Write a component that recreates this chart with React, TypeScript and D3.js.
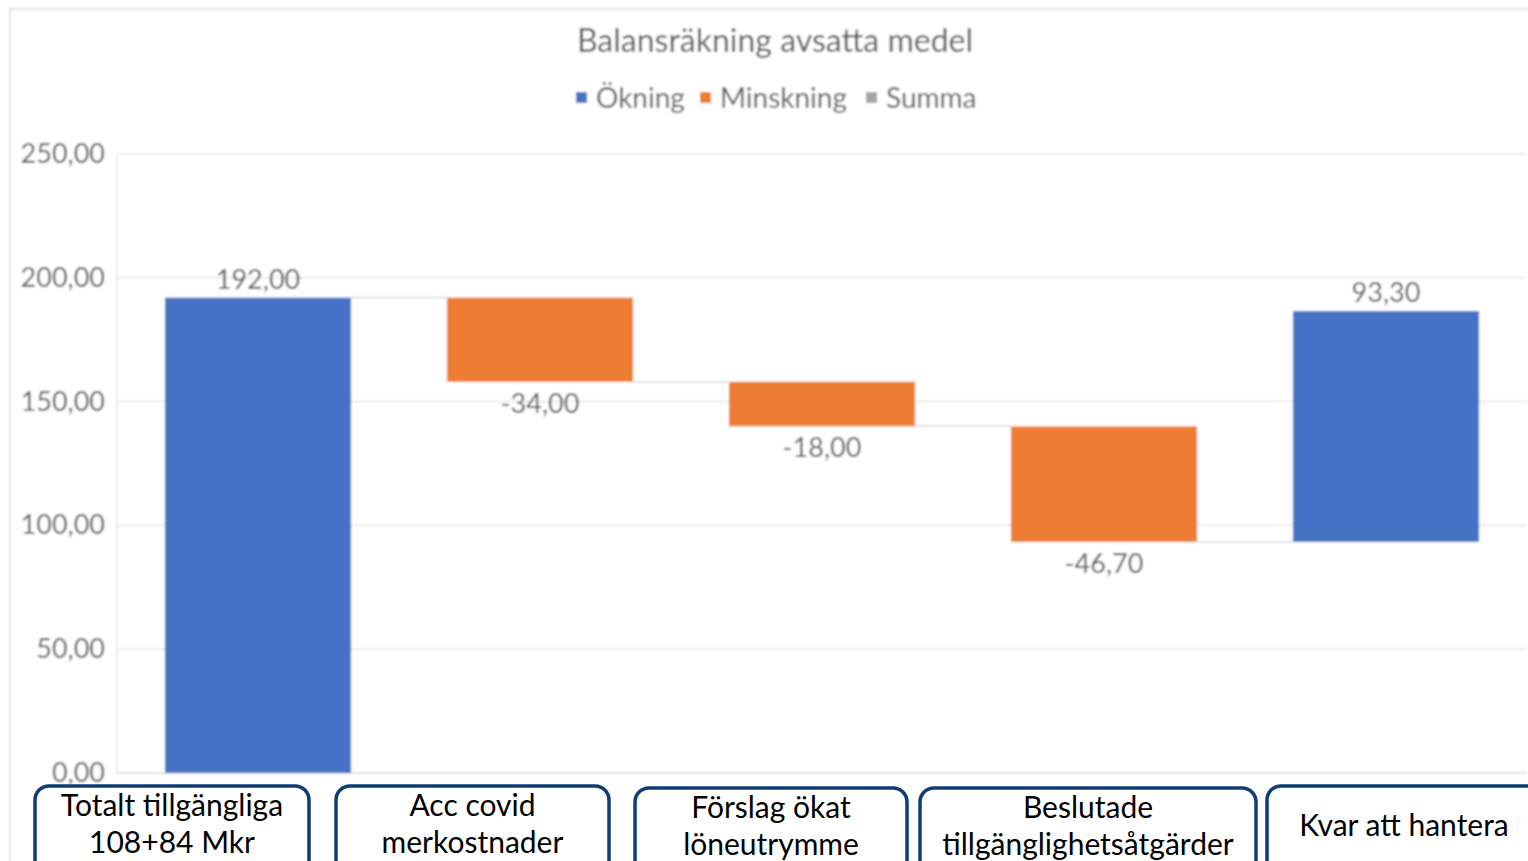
import React from 'react';
import * as d3 from 'd3';

// waterfall steps
const categories = [
  'Totalt tillgängliga 108+84 Mkr',
  'Acc covid merkostnader',
  'Förslag ökat löneutrymme',
  'Beslutade tillgänglighetsåtgärder',
  'Kvar att hantera',
];
const changes = [192, -34, -18, -46.7, 93.3];
const yTicks = [0, 50, 100, 150, 200, 250];
const legendItems = ['Ökning', 'Minskning', 'Summa'];
const legendColors = ['#4472C4', '#ED7D31', '#A5A5A5'];
const boxLines = [
  ['Totalt tillgängliga', '108+84 Mkr'],
  ['Acc covid', 'merkostnader'],
  ['Förslag ökat', 'löneutrymme'],
  ['Beslutade', 'tillgänglighetsåtgärder'],
  ['Kvar att hantera'],
];

const W = 1528;
const H = 861;
const plot = { left: 117, right: 1527, top: 154, bottom: 773 };
const font = 'Lato, "Open Sans", sans-serif';
const grey = '#595959';

// overlay boxes (annotation frames on top of the axis labels)
const boxFrames = [
  { x: 35, w: 274, y: 786 },
  { x: 336, w: 273, y: 786 },
  { x: 635, w: 272, y: 788 },
  { x: 920, w: 336, y: 788 },
  { x: 1267, w: 274, y: 786 },
];

// swedish style numbers: decimal comma, plain hyphen for minus
const sv = d3.formatLocale({ decimal: ',', thousands: ' ', grouping: [3], currency: ['', ' kr'], minus: '-' });
const fmt = sv.format('.2f');

const App: React.FC = () => {
  const x = d3
    .scaleBand<number>()
    .domain(changes.map((_, i) => i))
    .range([plot.left, plot.right])
    .paddingInner(0.34)
    .paddingOuter(0.17);
  const y = d3.scaleLinear().domain([0, 250]).range([plot.bottom, plot.top]);

  // running totals
  let run = 0;
  const steps = changes.map((v, i) => {
    const start = run;
    run += v;
    return { i, v, start, end: run };
  });

  const legendX = [576, 700, 866];

  return (
    <svg
      width={W}
      height={H}
      style={{ position: 'absolute', left: 0, top: 0, background: '#fff' }}
      fontFamily={font}
    >
      <defs>
        <filter id="soft" x="-5%" y="-5%" width="110%" height="110%">
          <feGaussianBlur stdDeviation="0.8" />
        </filter>
      </defs>
      <g filter="url(#soft)">
        {/* chart frame */}
        <rect x={10} y={9} width={W} height={H} fill="#fff" stroke="#d9d9d9" strokeWidth={1.5} />

        <text x={775} y={52} textAnchor="middle" fontSize={32} fill={grey}>
          Balansräkning avsatta medel
        </text>

        {legendItems.map((l, i) => (
          <g key={l}>
            <rect x={legendX[i]} y={92} width={11} height={11} fill={legendColors[i]} />
            <text x={legendX[i] + 20} y={108} fontSize={28} fill={grey}>
              {l}
            </text>
          </g>
        ))}

        {/* gridlines */}
        {yTicks.map((t) => (
          <g key={t}>
            <line x1={plot.left} x2={plot.right} y1={y(t)} y2={y(t)} stroke={t === 0 ? '#d9d9d9' : '#e6e6e6'} strokeWidth={1.5} />
            <text x={105} y={y(t) + 9} textAnchor="end" fontSize={27} fill={grey}>
              {fmt(t)}
            </text>
          </g>
        ))}
        <line x1={plot.left} x2={plot.left} y1={plot.top} y2={plot.bottom} stroke="#e6e6e6" strokeWidth={1.5} />

        {/* connectors */}
        {steps.slice(0, -1).map((s) => {
          const nx = steps[s.i + 1];
          const level = nx.start;
          return (
            <line
              key={'c' + s.i}
              x1={(x(s.i) || 0) + x.bandwidth()}
              x2={x(nx.i) || 0}
              y1={y(level)}
              y2={y(level)}
              stroke="#d9d9d9"
              strokeWidth={1.5}
            />
          );
        })}

        {/* bars */}
        {steps.map((s) => {
          const top = Math.max(s.start, s.end);
          const bot = Math.min(s.start, s.end);
          return (
            <rect
              key={'b' + s.i}
              x={x(s.i)}
              y={y(top)}
              width={x.bandwidth()}
              height={y(bot) - y(top)}
              fill={s.v >= 0 ? legendColors[0] : legendColors[1]}
            />
          );
        })}

        {/* data labels */}
        {steps.map((s) => {
          const cx = (x(s.i) || 0) + x.bandwidth() / 2;
          const ly = s.v >= 0 ? y(s.end) - 9 : y(s.end) + 31;
          return (
            <text key={'l' + s.i} x={cx} y={ly} textAnchor="middle" fontSize={27} fill={grey}>
              {fmt(s.v)}
            </text>
          );
        })}
      </g>

      {/* annotation boxes over the category axis */}
      {boxFrames.map((b, i) => {
        const lines = boxLines[i];
        const cx = b.x + b.w / 2;
        return (
          <g key={'box' + i} aria-label={categories[i]}>
            <rect x={b.x} y={b.y} width={b.w} height={100} rx={14} ry={14} fill="#fff" stroke="#0f3d75" strokeWidth={3.5} />
            {lines.length === 2 ? (
              <>
                <text x={cx} y={b.y + 30} textAnchor="middle" fontSize={30} fill="#000">
                  {lines[0]}
                </text>
                <text x={cx} y={b.y + 67} textAnchor="middle" fontSize={30} fill="#000">
                  {lines[1]}
                </text>
              </>
            ) : (
              <text x={cx} y={b.y + 50} textAnchor="middle" fontSize={30} fill="#000">
                {lines[0]}
              </text>
            )}
          </g>
        );
      })}
    </svg>
  );
};

export default App;
